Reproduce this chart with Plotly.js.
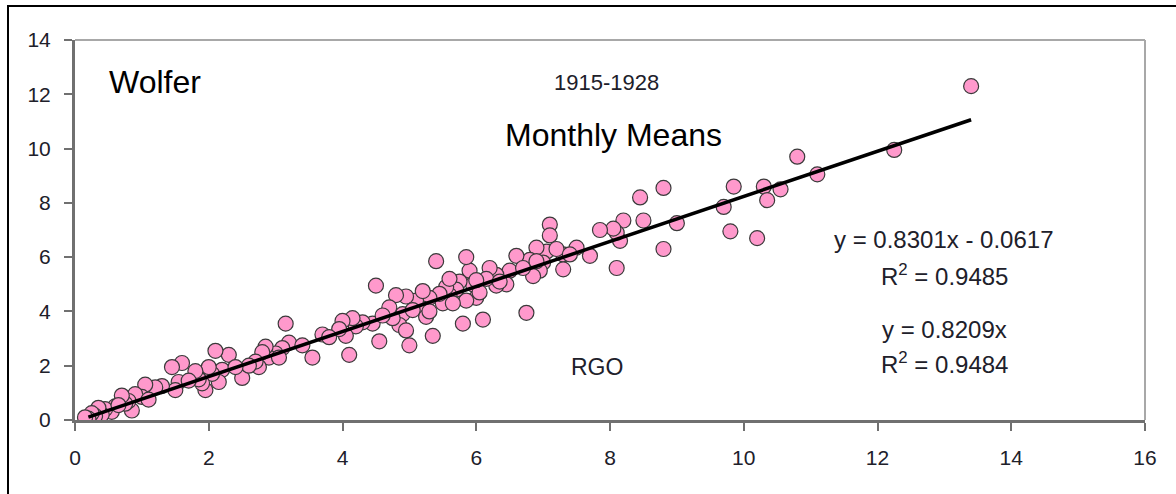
<!DOCTYPE html>
<html>
<head>
<meta charset="utf-8">
<script src="https://cdn.plot.ly/plotly-3.0.1.min.js"></script>
<style>
  html, body { margin: 0; padding: 0; background: #fff; overflow: hidden; }
  #wrap { position: relative; width: 1176px; height: 494px; }
  #chart { position: absolute; left: 0; top: 0; width: 1176px; height: 494px; }
  #frame { position: absolute; left: 7px; top: 5px; width: 1200px; height: 520px;
           border: 2px solid #000; box-sizing: border-box; pointer-events: none; }
</style>
</head>
<body>
<div id="wrap"><div id="chart"></div><div id="frame"></div></div>
<script>
// RGO (x) vs Wolfer (y) monthly means, 1915-1928
const rgoX = [
  13.4, 12.25, 10.8, 11.1, 10.55, 10.3, 10.35, 10.2, 9.85, 9.8, 9.7, 9.0, 8.8, 8.8, 8.45, 8.5,
  8.2, 8.15, 8.1, 8.05, 7.85, 7.7, 8.1, 7.5, 7.3, 7.3, 7.1, 7.1, 7.05, 7.0, 6.95, 6.9,
  6.85, 6.8, 6.75, 6.6, 6.5, 6.45, 6.3, 6.3, 6.2, 6.15, 6.1, 6.0, 5.95, 5.9, 5.85, 5.85,
  5.8, 5.75, 5.7, 5.6, 5.55, 5.5, 5.45, 5.4, 5.35, 5.3, 5.2, 5.1, 5.0, 4.95, 4.9, 4.85,
  4.8, 4.75, 4.7, 4.55, 4.5, 4.45, 4.3, 4.2, 4.15, 4.1, 4.05, 4.0, 3.95, 3.7, 3.55, 3.15,
  3.2, 3.1, 3.0, 2.9, 2.85, 2.8, 2.75, 2.7, 2.5, 2.3, 2.2, 2.1, 2.15, 2.05, 2.0, 1.95,
  1.9, 1.85, 1.8, 1.6, 1.55, 1.5, 1.45, 1.3, 1.2, 1.05, 1.0, 0.9, 0.85, 0.8, 0.75, 0.7,
  0.6, 0.55, 0.45, 0.4, 0.35, 0.3, 0.25, 0.2, 0.15,
  5.2, 5.65, 6.05, 6.35, 6.7, 7.2, 7.4, 5.05, 4.95, 5.25, 5.6, 6.0, 3.4, 3.8, 2.6, 1.7,
  1.1, 0.65, 2.4, 3.05, 4.6, 6.9, 5.3
];
const wolferY = [
  12.3, 9.95, 9.7, 9.05, 8.5, 8.6, 8.1, 6.7, 8.6, 6.95, 7.85, 7.25, 8.55, 6.3, 8.2, 7.35,
  7.35, 6.6, 6.9, 7.05, 7.0, 6.05, 5.6, 6.35, 6.1, 5.55, 7.2, 6.8, 6.2, 5.8, 5.5, 6.35,
  5.3, 5.9, 3.95, 6.05, 5.5, 5.0, 4.95, 5.35, 5.6, 5.2, 3.7, 4.5, 5.0, 5.5, 6.0, 4.4,
  3.55, 5.1, 4.8, 4.6, 4.9, 4.3, 4.65, 5.85, 3.1, 4.5, 4.1, 4.4, 2.75, 4.55, 3.9, 3.5,
  4.6, 3.75, 4.15, 2.9, 4.95, 3.55, 3.6, 3.45, 3.75, 2.4, 3.1, 3.65, 3.35, 3.15, 2.3, 3.55,
  2.85, 2.65, 2.45, 2.3, 2.7, 2.5, 1.95, 2.15, 1.55, 2.4, 1.85, 2.55, 1.4, 1.7, 1.95, 1.1,
  1.35, 1.5, 1.8, 2.1, 1.4, 1.1, 1.95, 1.25, 1.2, 1.3, 0.85, 0.95, 0.35, 0.7, 0.6, 0.9,
  0.5, 0.3, 0.4, 0.2, 0.45, 0.15, 0.25, 0.05, 0.1,
  4.75, 4.3, 4.7, 5.1, 5.6, 6.3, 6.1, 4.05, 3.3, 3.8, 5.2, 5.15, 2.75, 3.05, 2.0, 1.45,
  0.75, 0.55, 1.95, 2.3, 3.85, 5.85, 4.0
];
// Linear fit shown on chart
const fitSlope = 0.8301;
const fitIntercept = -0.0617;
const fitRange = [0.2, 13.4];
const xTicks = [0, 2, 4, 6, 8, 10, 12, 14, 16];
const yTicks = [0, 2, 4, 6, 8, 10, 12, 14];
const labels = {
  left: 'Wolfer',
  period: '1915-1928',
  subtitle: 'Monthly Means',
  bottom: 'RGO',
  eq1: 'y = 0.8301x - 0.0617',
  r1: 'R<sup>2</sup> = 0.9485',
  eq2: 'y = 0.8209x',
  r2: 'R<sup>2</sup> = 0.9484'
};

const fitX = fitRange.slice();
const fitY = fitX.map(v => fitSlope * v + fitIntercept);

const font = 'Liberation Sans, Arial, sans-serif';
const grey = '#20202a';

const traces = [
  {
    x: rgoX, y: wolferY, type: 'scatter', mode: 'markers',
    marker: { size: 15, color: '#ff99cc', line: { color: '#3a3a3a', width: 1.2 } },
    hoverinfo: 'skip'
  },
  {
    x: fitX, y: fitY, type: 'scatter', mode: 'lines',
    line: { color: '#000', width: 3.5 }, hoverinfo: 'skip'
  }
];

function ann(text, x, y, size, color, opts) {
  return Object.assign({ text, x, y, xref: 'x', yref: 'y', showarrow: false,
    font: { family: font, size, color } }, opts || {});
}

const axisCommon = {
  showgrid: false, zeroline: false, showline: true, linecolor: '#707070', linewidth: 3,
  ticks: 'outside', ticklen: 8, tickwidth: 2, tickcolor: '#707070',
  ticklabelstandoff: 9,
  tickfont: { family: font, size: 21, color: grey }, fixedrange: true
};

const layout = {
  width: 1176, height: 494,
  margin: { l: 75, r: 31, t: 40, b: 74 },
  paper_bgcolor: '#fff', plot_bgcolor: '#fff',
  showlegend: false,
  xaxis: Object.assign({ range: [0, 16], tickvals: xTicks, ticktext: xTicks.map(String) }, axisCommon),
  yaxis: Object.assign({ range: [0, 14], tickvals: yTicks, ticktext: yTicks.map(String) }, axisCommon),
  shapes: [
    { type: 'line', xref: 'paper', yref: 'paper', x0: 0, x1: 1, y0: 1, y1: 1,
      line: { color: '#a8a8a8', width: 2 } },
    { type: 'line', xref: 'paper', yref: 'paper', x0: 1, x1: 1, y0: 0, y1: 1,
      line: { color: '#a8a8a8', width: 2 } }
  ],
  annotations: [
    ann(labels.left, 0.48, 12.45, 32, '#000', { xanchor: 'left' }),
    ann(labels.period, 7.95, 12.45, 22, grey),
    ann(labels.subtitle, 8.05, 10.5, 32, '#000'),
    ann(labels.bottom, 7.8, 1.95, 23, grey),
    ann(labels.eq1, 13.0, 6.65, 24, grey),
    ann(labels.r1, 13.0, 5.35, 24, grey),
    ann(labels.eq2, 13.0, 3.35, 24, grey),
    ann(labels.r2, 13.0, 2.1, 24, grey)
  ]
};

Plotly.newPlot('chart', traces, layout, { displayModeBar: false, staticPlot: true });
</script>
</body>
</html>
